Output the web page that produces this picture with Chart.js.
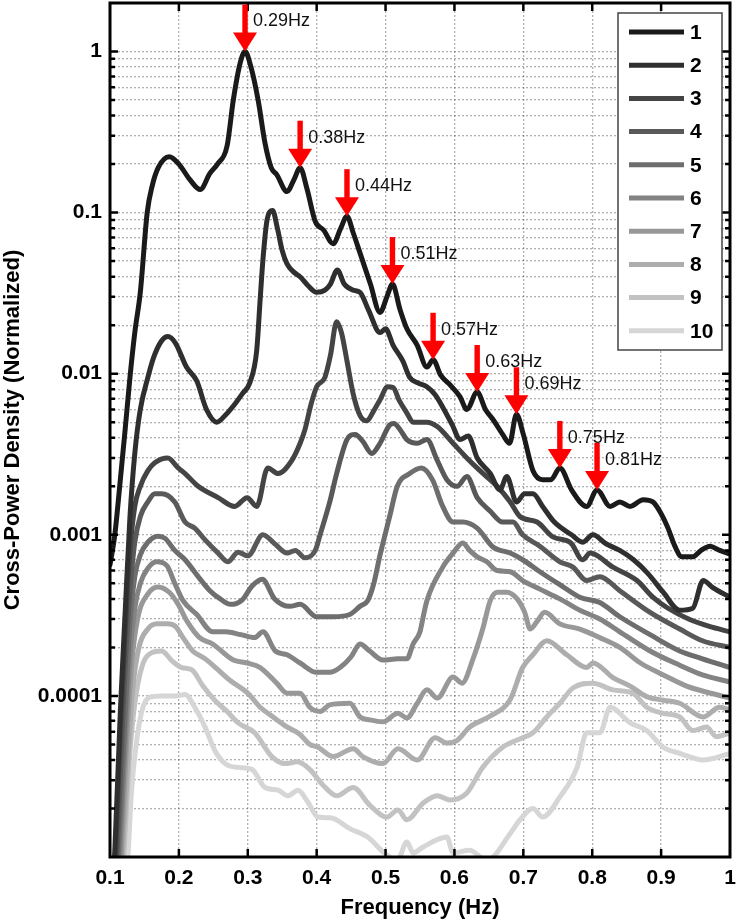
<!DOCTYPE html>
<html>
<head>
<meta charset="utf-8">
<title>Cross-Power Density</title>
<script src="https://cdn.jsdelivr.net/npm/chart.js@4.4.1/dist/chart.umd.min.js"></script>
<style>
html,body{margin:0;padding:0;background:#fff;}
#wrap{position:relative;width:736px;height:922px;}
</style>
</head>
<body>
<div id="wrap"><canvas id="chart" width="736" height="922"></canvas></div>
<script>
// ---------- data: [frequency (Hz), normalized cross-power density] ----------
const series1 = [[0.100,6.5e-4],[0.107,1.0e-3],[0.115,2.2e-3],[0.122,4.5e-3],[0.129,9.5e-3],[0.136,0.018],[0.144,0.032],[0.154,0.1],[0.161,0.145],[0.170,0.19],[0.186,0.222],[0.200,0.2],[0.216,0.16],[0.231,0.139],[0.245,0.175],[0.256,0.2],[0.270,0.26],[0.279,0.5],[0.289,0.85],[0.296,1.0],[0.304,0.82],[0.315,0.5],[0.325,0.27],[0.334,0.19],[0.342,0.172],[0.357,0.135],[0.367,0.16],[0.376,0.19],[0.386,0.14],[0.398,0.088],[0.410,0.078],[0.424,0.064],[0.435,0.08],[0.444,0.095],[0.453,0.075],[0.463,0.056],[0.478,0.036],[0.492,0.024],[0.502,0.03],[0.510,0.036],[0.521,0.025],[0.531,0.019],[0.546,0.015],[0.560,0.011],[0.569,0.0122],[0.580,0.0098],[0.594,0.0085],[0.608,0.0072],[0.618,0.006],[0.633,0.0077],[0.645,0.006],[0.656,0.0052],[0.670,0.0042],[0.680,0.0037],[0.690,0.0056],[0.700,0.0042],[0.714,0.0025],[0.728,0.0022],[0.740,0.0022],[0.753,0.0026],[0.770,0.0019],[0.792,0.0015],[0.807,0.0019],[0.826,0.0015],[0.840,0.0016],[0.855,0.0015],[0.874,0.00165],[0.888,0.0016],[0.898,0.0014],[0.910,0.0011],[0.920,0.00085],[0.930,0.00073],[0.946,0.00073],[0.958,0.0008],[0.971,0.00085],[0.985,0.0008],[1.000,0.00076]];
const series2 = [[0.100,4e-6],[0.107,1.1e-5],[0.115,8e-5],[0.122,3.3e-4],[0.129,1.3e-3],[0.136,3.2e-3],[0.144,6e-3],[0.155,9.5e-3],[0.163,0.0125],[0.175,0.016],[0.184,0.017],[0.195,0.0155],[0.211,0.011],[0.226,0.009],[0.240,0.006],[0.255,0.005],[0.267,0.0055],[0.279,0.0063],[0.292,0.0075],[0.303,0.0088],[0.313,0.014],[0.318,0.029],[0.322,0.051],[0.328,0.09],[0.336,0.103],[0.343,0.08],[0.350,0.058],[0.357,0.048],[0.366,0.043],[0.376,0.04],[0.388,0.035],[0.400,0.032],[0.412,0.033],[0.420,0.036],[0.430,0.044],[0.440,0.036],[0.453,0.033],[0.463,0.032],[0.475,0.025],[0.492,0.018],[0.500,0.019],[0.511,0.015],[0.525,0.012],[0.535,0.0095],[0.546,0.0088],[0.560,0.0083],[0.572,0.0074],[0.583,0.0062],[0.597,0.0048],[0.608,0.0039],[0.620,0.0041],[0.633,0.003],[0.652,0.0024],[0.666,0.0019],[0.676,0.0023],[0.690,0.0016],[0.702,0.0018],[0.714,0.0018],[0.728,0.0015],[0.745,0.0012],[0.770,0.001],[0.786,0.0009],[0.801,0.001],[0.820,0.00088],[0.840,0.0008],[0.860,0.0007],[0.880,0.00058],[0.903,0.00044],[0.927,0.00034],[0.946,0.00035],[0.961,0.00052],[0.975,0.00047],[1.000,0.00041]];
const series3 = [[0.100,2.5e-6],[0.108,1e-5],[0.115,6e-5],[0.122,2.5e-4],[0.129,8e-4],[0.136,1.5e-3],[0.144,2.0e-3],[0.155,2.5e-3],[0.165,2.8e-3],[0.184,0.003],[0.199,0.0026],[0.209,0.0024],[0.228,0.002],[0.257,0.0017],[0.281,0.0015],[0.299,0.0017],[0.313,0.0015],[0.329,0.0026],[0.344,0.0024],[0.364,0.0029],[0.376,0.0037],[0.383,0.0045],[0.392,0.0065],[0.400,0.0083],[0.412,0.0095],[0.420,0.013],[0.429,0.021],[0.436,0.018],[0.444,0.012],[0.453,0.0075],[0.463,0.0055],[0.473,0.0051],[0.482,0.0058],[0.492,0.0069],[0.503,0.0083],[0.511,0.0082],[0.520,0.0068],[0.531,0.0057],[0.540,0.005],[0.550,0.005],[0.560,0.005],[0.575,0.0047],[0.598,0.0037],[0.618,0.003],[0.637,0.0025],[0.662,0.002],[0.681,0.0016],[0.695,0.0013],[0.720,0.0012],[0.743,0.00097],[0.769,0.00089],[0.786,0.0007],[0.797,0.00077],[0.830,0.00063],[0.865,0.00052],[0.888,0.00041],[0.910,0.00035],[0.940,0.0003],[0.970,0.00027],[1.000,0.00025]];
const series4 = [[0.100,2e-6],[0.110,1e-5],[0.117,5e-5],[0.122,1.5e-4],[0.129,4.5e-4],[0.136,9e-4],[0.144,1.3e-3],[0.155,1.6e-3],[0.165,1.8e-3],[0.175,1.8e-3],[0.194,0.0016],[0.209,0.0012],[0.223,0.0011],[0.238,0.00093],[0.257,0.00077],[0.271,0.00068],[0.286,0.00078],[0.300,0.00074],[0.322,0.001],[0.339,0.00088],[0.357,0.00077],[0.369,0.0008],[0.383,0.00072],[0.398,0.0008],[0.405,0.001],[0.419,0.0016],[0.429,0.0024],[0.444,0.0039],[0.456,0.0042],[0.467,0.0038],[0.480,0.0032],[0.492,0.0037],[0.506,0.0048],[0.512,0.0049],[0.521,0.0045],[0.531,0.0039],[0.546,0.0037],[0.560,0.0039],[0.575,0.0029],[0.589,0.0022],[0.604,0.002],[0.618,0.0023],[0.633,0.0017],[0.652,0.0014],[0.670,0.0012],[0.685,0.0012],[0.699,0.001],[0.724,0.00085],[0.753,0.00068],[0.772,0.00063],[0.792,0.00052],[0.811,0.00055],[0.840,0.00045],[0.884,0.00033],[0.927,0.00026],[0.960,0.00022],[1.000,0.0002]];
const series5 = [[0.100,1.5e-6],[0.112,1e-5],[0.120,5e-5],[0.129,2.8e-4],[0.136,5.5e-4],[0.144,7.5e-4],[0.155,9e-4],[0.170,9.8e-4],[0.180,9.5e-4],[0.194,8e-4],[0.209,7e-4],[0.228,5.5e-4],[0.245,4.5e-4],[0.260,4e-4],[0.275,3.7e-4],[0.292,3.95e-4],[0.306,4.8e-4],[0.321,5.3e-4],[0.339,4e-4],[0.361,3.6e-4],[0.376,3.7e-4],[0.400,3.1e-4],[0.424,3.1e-4],[0.448,3.2e-4],[0.463,3.6e-4],[0.474,3.9e-4],[0.483,5e-4],[0.492,7.5e-4],[0.506,1.3e-3],[0.517,2.0e-3],[0.535,2.4e-3],[0.552,2.6e-3],[0.568,2.2e-3],[0.583,1.5e-3],[0.598,1.2e-3],[0.612,1.2e-3],[0.633,1.1e-3],[0.656,8.4e-4],[0.681,7.7e-4],[0.699,7e-4],[0.724,5.9e-4],[0.753,4.9e-4],[0.782,4.1e-4],[0.811,3.8e-4],[0.840,3.1e-4],[0.884,2.4e-4],[0.927,1.9e-4],[0.960,1.7e-4],[1.000,1.5e-4]];
const series6 = [[0.100,1e-6],[0.114,1e-5],[0.122,5e-5],[0.129,1.8e-4],[0.136,3.5e-4],[0.144,5e-4],[0.155,6.2e-4],[0.168,6.8e-4],[0.183,6.4e-4],[0.194,5e-4],[0.206,3.9e-4],[0.226,3.2e-4],[0.249,2.5e-4],[0.268,2.5e-4],[0.290,2.4e-4],[0.310,2.3e-4],[0.322,2.5e-4],[0.340,1.9e-4],[0.357,1.8e-4],[0.376,1.6e-4],[0.400,1.4e-4],[0.419,1.4e-4],[0.434,1.5e-4],[0.450,1.75e-4],[0.463,2.1e-4],[0.477,1.9e-4],[0.496,1.67e-4],[0.518,1.7e-4],[0.531,1.7e-4],[0.540,2.1e-4],[0.550,2.5e-4],[0.554,3e-4],[0.560,3.9e-4],[0.583,6.3e-4],[0.598,7.7e-4],[0.612,8.9e-4],[0.622,8e-4],[0.633,7.3e-4],[0.647,6.8e-4],[0.662,6e-4],[0.681,5.9e-4],[0.699,5.2e-4],[0.724,4.6e-4],[0.753,4e-4],[0.782,3.4e-4],[0.811,3e-4],[0.840,2.5e-4],[0.884,1.9e-4],[0.927,1.55e-4],[0.960,1.35e-4],[1.000,1.22e-4]];
const series7 = [[0.100,8e-7],[0.116,1e-5],[0.124,5e-5],[0.131,1.5e-4],[0.140,3e-4],[0.155,4.3e-4],[0.170,4.75e-4],[0.186,4.4e-4],[0.199,3.7e-4],[0.212,2.9e-4],[0.230,2.3e-4],[0.249,2.1e-4],[0.279,1.67e-4],[0.299,1.6e-4],[0.318,1.5e-4],[0.342,1.2e-4],[0.357,1.04e-4],[0.376,1.04e-4],[0.390,8.5e-5],[0.405,8.0e-5],[0.419,8.8e-5],[0.448,9e-5],[0.463,7.4e-5],[0.477,7.1e-5],[0.496,6.9e-5],[0.518,7.8e-5],[0.531,7.3e-5],[0.546,9e-5],[0.560,1.09e-4],[0.575,9.7e-5],[0.598,1.31e-4],[0.611,1.2e-4],[0.627,1.7e-4],[0.641,2.6e-4],[0.652,3.9e-4],[0.662,4.4e-4],[0.676,4.4e-4],[0.691,4e-4],[0.702,3.3e-4],[0.710,2.6e-4],[0.720,2.9e-4],[0.731,3.3e-4],[0.753,2.8e-4],[0.782,2.6e-4],[0.811,2.3e-4],[0.840,2e-4],[0.870,1.6e-4],[0.903,1.35e-4],[0.937,1.15e-4],[0.968,1.05e-4],[1.000,9.7e-5]];
const series8 = [[0.100,6e-7],[0.118,1e-5],[0.126,4e-5],[0.133,1.1e-4],[0.142,2e-4],[0.155,2.6e-4],[0.168,2.8e-4],[0.183,2.8e-4],[0.195,2.7e-4],[0.206,2.3e-4],[0.220,1.9e-4],[0.238,1.7e-4],[0.257,1.45e-4],[0.274,1.25e-4],[0.300,1.04e-4],[0.318,8.5e-5],[0.335,7.5e-5],[0.355,6.5e-5],[0.375,5.8e-5],[0.390,5e-5],[0.402,4.8e-5],[0.424,4.2e-5],[0.453,4.7e-5],[0.467,4.2e-5],[0.496,3.8e-5],[0.518,4.7e-5],[0.546,4e-5],[0.572,5.5e-5],[0.589,5.1e-5],[0.604,5.3e-5],[0.622,6.4e-5],[0.652,7.5e-5],[0.681,9.5e-5],[0.699,1.5e-4],[0.714,1.8e-4],[0.734,2.2e-4],[0.763,1.8e-4],[0.792,1.5e-4],[0.801,1.6e-4],[0.830,1.3e-4],[0.855,1.15e-4],[0.879,9.9e-5],[0.903,9.4e-5],[0.927,9e-5],[0.961,7.4e-5],[0.985,8.5e-5],[1.000,8.2e-5]];
const series9 = [[0.100,5e-7],[0.120,1e-5],[0.128,4e-5],[0.136,9e-5],[0.146,1.5e-4],[0.160,1.85e-4],[0.175,1.9e-4],[0.190,1.65e-4],[0.204,1.5e-4],[0.219,1.45e-4],[0.235,1.15e-4],[0.252,9.4e-5],[0.270,8e-5],[0.286,6.8e-5],[0.310,5.9e-5],[0.335,4.2e-5],[0.354,3.8e-5],[0.372,3.9e-5],[0.390,3.5e-5],[0.409,2.8e-5],[0.429,2.4e-5],[0.453,2.7e-5],[0.477,2.1e-5],[0.502,1.77e-5],[0.518,1.96e-5],[0.531,1.7e-5],[0.554,2.15e-5],[0.575,2.4e-5],[0.593,2.26e-5],[0.618,2.5e-5],[0.641,3.6e-5],[0.670,4.8e-5],[0.699,5.5e-5],[0.714,5.9e-5],[0.734,7.4e-5],[0.753,9e-5],[0.772,1.12e-4],[0.801,1.2e-4],[0.830,1.09e-4],[0.859,1.04e-4],[0.879,8.5e-5],[0.903,7.8e-5],[0.927,7.4e-5],[0.946,6.1e-5],[0.966,6.4e-5],[0.980,5.6e-5],[1.000,5.9e-5]];
const series10 = [[0.100,3e-7],[0.126,1e-5],[0.131,2.5e-5],[0.138,5e-5],[0.146,8e-5],[0.157,9.8e-5],[0.175,1e-4],[0.195,1e-4],[0.209,1.02e-4],[0.223,8.5e-5],[0.238,6.4e-5],[0.252,4.6e-5],[0.267,3.8e-5],[0.286,3.6e-5],[0.306,3.5e-5],[0.325,2.7e-5],[0.344,2.6e-5],[0.358,2.4e-5],[0.373,2.6e-5],[0.387,2.2e-5],[0.402,1.77e-5],[0.420,1.75e-5],[0.448,1.5e-5],[0.474,1.33e-5],[0.499,1.05e-5],[0.517,9.5e-6],[0.531,1.24e-5],[0.540,1.06e-5],[0.554,1.15e-5],[0.589,1.33e-5],[0.598,1.06e-5],[0.622,1.1e-5],[0.647,9.5e-6],[0.681,1.4e-5],[0.695,1.7e-5],[0.714,2.0e-5],[0.728,1.77e-5],[0.753,2.36e-5],[0.778,3.6e-5],[0.792,5.9e-5],[0.811,5.9e-5],[0.826,8.5e-5],[0.855,6.8e-5],[0.879,6.1e-5],[0.903,4.8e-5],[0.927,4.4e-5],[0.961,4.0e-5],[1.000,4.4e-5]];

const seriesNames = ['1','2','3','4','5','6','7','8','9','10'];
const seriesColors = ['#1a1a1a','#2f2f2f','#444444','#595959','#6e6e6e','#838383','#989898','#adadad','#c2c2c2','#d6d6d6'];

// peak markers on series 1
const peakFreqs = [0.296,0.376,0.444,0.510,0.569,0.633,0.690,0.753,0.807];
const peakPsd   = [1.0,0.19,0.095,0.036,0.0122,0.0077,0.0056,0.0026,0.0019];
const peakLabels = ['0.29Hz','0.38Hz','0.44Hz','0.51Hz','0.57Hz','0.63Hz','0.69Hz','0.75Hz','0.81Hz'];

// axes
const xTickValues = [0.1,0.2,0.3,0.4,0.5,0.6,0.7,0.8,0.9,1.0];
const xTickLabels = ['0.1','0.2','0.3','0.4','0.5','0.6','0.7','0.8','0.9','1'];
const yLabelValues = [1,0.1,0.01,0.001,0.0001];
const yLabelTexts = ['1','0.1','0.01','0.001','0.0001'];
const yMin = 1e-5, yMax = 2;

// ---------- chart ----------
const FONT = "'Liberation Sans', Arial, Helvetica, sans-serif";
Chart.defaults.font.family = FONT;
Chart.defaults.color = '#000';

const allSeries = [series1,series2,series3,series4,series5,series6,series7,series8,series9,series10];
const datasets = allSeries.map((s, i) => ({
  label: seriesNames[i],
  data: s.map(p => ({x: p[0], y: p[1]})),
  borderColor: seriesColors[i],
  backgroundColor: seriesColors[i],
  borderWidth: 5,
  pointRadius: 0,
  cubicInterpolationMode: 'monotone',
  borderJoinStyle: 'round',
  borderCapStyle: 'round',
  fill: false
}));

const isDecade = v => Math.abs(Math.log10(v) - Math.round(Math.log10(v))) < 1e-9;

const framePlugin = {
  id: 'frame',
  afterDatasetsDraw(chart) {
    const {ctx, chartArea: a, scales: {x, y}} = chart;
    ctx.save();
    // inward tick marks (all four sides)
    ctx.strokeStyle = '#000';
    ctx.lineWidth = 2.5;
    ctx.beginPath();
    xTickValues.forEach(v => {
      if (v <= x.min + 1e-9 || v >= x.max - 1e-9) return;
      const p = x.getPixelForValue(v);
      ctx.moveTo(p, a.bottom); ctx.lineTo(p, a.bottom - 8);
      ctx.moveTo(p, a.top); ctx.lineTo(p, a.top + 8);
    });
    y.ticks.forEach(t => {
      const v = t.value;
      if (v <= y.min * 1.0001 || v >= y.max * 0.9999) return;
      const p = y.getPixelForValue(v);
      const len = isDecade(v) ? 8 : 5;
      ctx.moveTo(a.left, p); ctx.lineTo(a.left + len, p);
      ctx.moveTo(a.right, p); ctx.lineTo(a.right - len, p);
    });
    ctx.stroke();
    // box
    ctx.lineWidth = 3;
    ctx.strokeRect(a.left, a.top, a.right - a.left, a.bottom - a.top);

    // peak labels then arrows
    ctx.font = '18px ' + FONT;
    ctx.textAlign = 'left';
    ctx.textBaseline = 'middle';
    ctx.fillStyle = '#111';
    peakFreqs.forEach((f, i) => {
      const px = x.getPixelForValue(f), py = y.getPixelForValue(peakPsd[i]);
      ctx.fillText(peakLabels[i], px + 8, py - 30);
    });
    ctx.fillStyle = '#ff0000';
    peakFreqs.forEach((f, i) => {
      const px = x.getPixelForValue(f), py = y.getPixelForValue(peakPsd[i]);
      const total = 47, head = 19, hw = 12, sw = 2.7;
      ctx.fillRect(px - sw, py - total, 2 * sw, total - head + 1);
      ctx.beginPath();
      ctx.moveTo(px - hw, py - head);
      ctx.lineTo(px + hw, py - head);
      ctx.lineTo(px, py);
      ctx.closePath();
      ctx.fill();
    });

    // legend box
    const lx = a.right - 112, ly = a.top + 10, lw = 104, lh = 337;
    ctx.fillStyle = '#fff';
    ctx.fillRect(lx, ly, lw, lh);
    ctx.strokeStyle = '#444';
    ctx.lineWidth = 1.5;
    ctx.strokeRect(lx, ly, lw, lh);
    ctx.font = 'bold 21px ' + FONT;
    ctx.textBaseline = 'middle';
    chart.data.datasets.forEach((ds, i) => {
      const cy = ly + 19 + i * 33.2;
      ctx.strokeStyle = ds.borderColor;
      ctx.lineWidth = 5;
      ctx.beginPath();
      ctx.moveTo(lx + 11, cy); ctx.lineTo(lx + 66, cy);
      ctx.stroke();
      ctx.fillStyle = '#000';
      ctx.fillText(ds.label, lx + 72, cy + 1);
    });
    ctx.restore();
  }
};

const gridStyle = {color: 'rgba(70,70,70,0.42)', lineWidth: 1.3, drawTicks: false};

new Chart(document.getElementById('chart'), {
  type: 'line',
  data: {datasets},
  plugins: [framePlugin],
  options: {
    responsive: false,
    animation: false,
    devicePixelRatio: 1,
    layout: {padding: {top: 3, right: 6, left: 0, bottom: 0}},
    plugins: {legend: {display: false}, tooltip: {enabled: false}},
    elements: {line: {tension: 0}},
    scales: {
      x: {
        type: 'linear', min: 0.1, max: 1,
        afterBuildTicks: s => { s.ticks = xTickValues.map(v => ({value: v})); },
        afterFit: s => { s.height = 65; s.paddingLeft = 0; s.paddingRight = 0; },
        ticks: {
          autoSkip: false, maxRotation: 0, padding: 9, color: '#000',
          font: {size: 21, weight: 'bold'},
          callback: (v, i) => xTickLabels[i]
        },
        grid: gridStyle,
        border: {display: false, dash: [2, 2]},
        title: {display: true, text: 'Frequency (Hz)', color: '#000',
                font: {size: 22, weight: 'bold'}, padding: {top: 0, bottom: 1}}
      },
      y: {
        type: 'logarithmic', min: yMin, max: yMax,
        afterBuildTicks: s => {
          const t = [];
          for (let k = -5; k <= 0; k++) {
            for (let m = 1; m <= 9; m++) {
              const v = m * Math.pow(10, k);
              if (v >= yMin * 0.9999 && v <= yMax * 1.0001) t.push({value: v});
            }
          }
          s.ticks = t;
        },
        afterFit: s => { s.width = 110; s.paddingTop = 0; s.paddingBottom = 0; },
        ticks: {
          autoSkip: false, padding: 8, color: '#000',
          font: {size: 21, weight: 'bold'},
          callback: v => {
            const idx = yLabelValues.findIndex(l => Math.abs(Math.log10(l) - Math.log10(v)) < 1e-6);
            return idx >= 0 ? yLabelTexts[idx] : '';
          }
        },
        grid: gridStyle,
        border: {display: false, dash: [2, 2]},
        title: {display: true, text: 'Cross-Power Density (Normalized)', color: '#000',
                font: {size: 22, weight: 'bold'}, padding: {top: 0, bottom: 0}}
      }
    }
  }
});
</script>
</body>
</html>
